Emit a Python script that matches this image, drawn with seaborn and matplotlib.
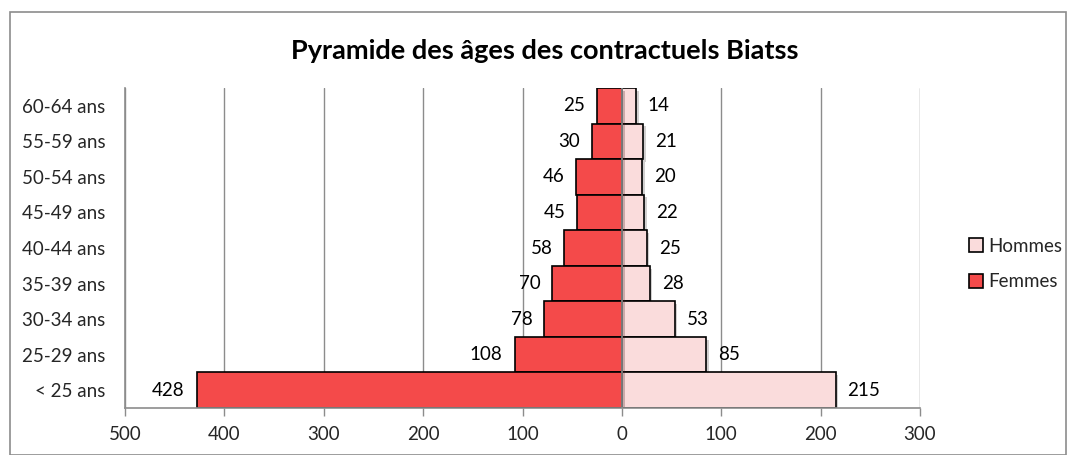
import matplotlib
matplotlib.use("Agg")
import matplotlib.pyplot as plt
import matplotlib.patheffects as pe
from matplotlib.patches import Rectangle, Patch
import seaborn as sns
import pandas as pd

categories = ["60-64 ans", "55-59 ans", "50-54 ans", "45-49 ans", "40-44 ans",
              "35-39 ans", "30-34 ans", "25-29 ans", "< 25 ans"]
femmes = [25, 30, 46, 45, 58, 70, 78, 108, 428]
hommes = [14, 21, 20, 22, 25, 28, 53, 85, 215]
xticks = [-500, -400, -300, -200, -100, 0, 100, 200, 300]
title = "Pyramide des âges des contractuels Biatss"

sns.set_theme(style="white")
plt.rcParams["font.family"] = ["Lato", "DejaVu Sans"]

col_f = "#F44A4A"
col_h = "#FADCDC"
FS = 13.5

df = pd.DataFrame({"cat": categories, "femmes": [-v for v in femmes], "hommes": hommes})

fig = plt.figure(figsize=(10.7, 4.55), dpi=100)
fig.patch.set_facecolor("white")
fig.add_artist(Rectangle((10 / 1070, 0.0), 1056 / 1070, (455 - 12) / 455,
                         transform=fig.transFigure, fill=False,
                         edgecolor="#8c8c8c", linewidth=1.2))

ax = fig.add_axes([125 / 1070, 1 - 408 / 455, 795 / 1070, 320 / 455])

shadow = [pe.SimplePatchShadow(offset=(2, -2), alpha=0.25), pe.Normal()]
sns.barplot(data=df, y="cat", x="hommes", order=categories, color=col_h,
            width=1.0, edgecolor="black", linewidth=1.2, ax=ax, saturation=1)
sns.barplot(data=df, y="cat", x="femmes", order=categories, color=col_f,
            width=1.0, edgecolor="black", linewidth=1.2, ax=ax, saturation=1)
for p in ax.patches:
    p.set_path_effects(shadow)

ax.set_xlim(-500, 300)
ax.set_xticks(xticks)
ax.set_xticklabels([str(abs(v)) for v in xticks], fontsize=FS)
ax.tick_params(axis="x", length=6, width=1, color="#8c8c8c", direction="out", pad=7, bottom=True)
ax.tick_params(axis="y", length=0, labelsize=FS, pad=14)
ax.set_xlabel("")
ax.set_ylabel("")
ax.grid(axis="x", color="#8c8c8c", linewidth=1)
ax.set_axisbelow(True)
for s in ["top", "right"]:
    ax.spines[s].set_visible(False)
for s in ["left", "bottom"]:
    ax.spines[s].set_color("#8c8c8c")
    ax.spines[s].set_linewidth(1.2)
ax.axvline(0, color="#8c8c8c", linewidth=1.2, zorder=5)

for i, (f, h) in enumerate(zip(femmes, hommes)):
    ax.text(-f - 12, i, str(f), ha="right", va="center", fontsize=FS, color="black")
    ax.text(h + 12, i, str(h), ha="left", va="center", fontsize=FS, color="black")

fig.text(545 / 1070, 1 - 51 / 455, title, ha="center", va="center",
         fontsize=19.5, fontweight="bold", color="black")

handles = [Patch(facecolor=col_h, edgecolor="black", linewidth=1.2, label="Hommes"),
           Patch(facecolor=col_f, edgecolor="black", linewidth=1.2, label="Femmes")]
leg = fig.legend(handles=handles, loc="center left",
                 bbox_to_anchor=(969 / 1070, 1 - 264 / 455),
                 frameon=False, fontsize=FS, handlelength=0.75, handleheight=0.75,
                 handletextpad=0.25, labelspacing=1.0, borderaxespad=0, borderpad=0)

fig.savefig("out.png", dpi=100, facecolor="white")
